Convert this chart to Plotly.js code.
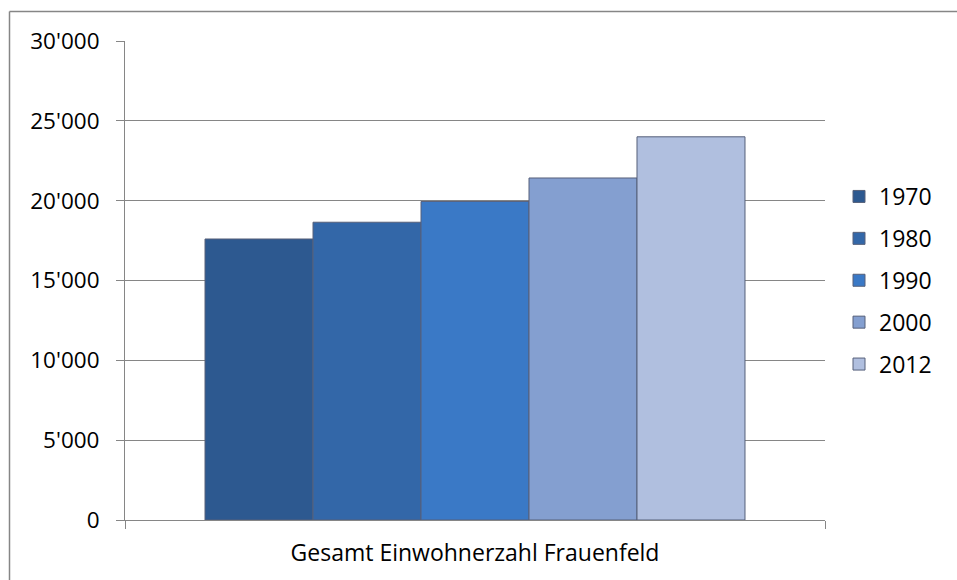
<!DOCTYPE html>
<html>
<head>
<meta charset="utf-8">
<script src="https://cdn.plot.ly/plotly-3.0.1.min.js"></script>
<style>html,body{margin:0;padding:0;background:#fff;}#chart{width:957px;height:580px;}</style>
</head>
<body>
<div id="chart"></div>
<script>
var category = ["Gesamt Einwohnerzahl Frauenfeld"];
var years = ["1970", "1980", "1990", "2000", "2012"];
var population = [17600, 18650, 19950, 21420, 24000];
var colors = ["#2d5990", "#3367a8", "#3a79c6", "#849fd0", "#b0bfdf"];
var yTicks = [0, 5000, 10000, 15000, 20000, 25000, 30000];
var yTickText = ["0", "5'000", "10'000", "15'000", "20'000", "25'000", "30'000"];

var traces = years.map(function (yr, i) {
  return {
    type: "bar",
    name: yr,
    legendgroup: yr,
    x: category,
    y: [population[i]],
    marker: { color: colors[i], line: { color: "#56607a", width: 1 } },
    hoverinfo: "name+y"
  };
});

var layout = {
  width: 957,
  height: 580,
  paper_bgcolor: "#ffffff",
  plot_bgcolor: "#ffffff",
  font: { family: "Open Sans, sans-serif", size: 22, color: "#000000" },
  margin: { l: 125, r: 132, t: 41, b: 60 },
  barmode: "group",
  bargap: 0.2286,
  bargroupgap: 0,
  showlegend: true,
  legend: {
    x: 1.02, xanchor: "left",
    y: 0.5, yanchor: "middle",
    traceorder: "grouped",
    tracegroupgap: 9,
    font: { family: "Open Sans, sans-serif", size: 23, color: "#000" },
    itemwidth: 30
  },
  xaxis: {
    type: "category",
    tickson: "boundaries",
    ticks: "outside",
    ticklen: 8,
    tickcolor: "#868686",
    showline: true,
    linecolor: "#868686",
    linewidth: 1,
    showgrid: false,
    tickfont: { size: 23 },
    ticklabelstandoff: 12
  },
  yaxis: {
    range: [0, 30000],
    tickmode: "array",
    tickvals: yTicks,
    ticktext: yTickText,
    ticks: "outside",
    ticklen: 8,
    tickcolor: "#868686",
    showline: true,
    linecolor: "#868686",
    linewidth: 1,
    showgrid: true,
    gridcolor: "#868686",
    gridwidth: 1,
    zeroline: false,
    tickfont: { size: 22.5 },
    ticklabelstandoff: 12
  },
  shapes: [
    { type: "line", xref: "paper", yref: "paper", x0: -0.165, x1: 1.3, y0: 1.0616, y1: 1.0616, line: { color: "#868686", width: 1.5 } },
    { type: "line", xref: "paper", yref: "paper", x0: -0.165, x1: -0.165, y0: 1.0616, y1: -0.2, line: { color: "#868686", width: 1.5 } }
  ]
};

Plotly.newPlot("chart", traces, layout, { displayModeBar: false, staticPlot: true });
</script>
</body>
</html>
